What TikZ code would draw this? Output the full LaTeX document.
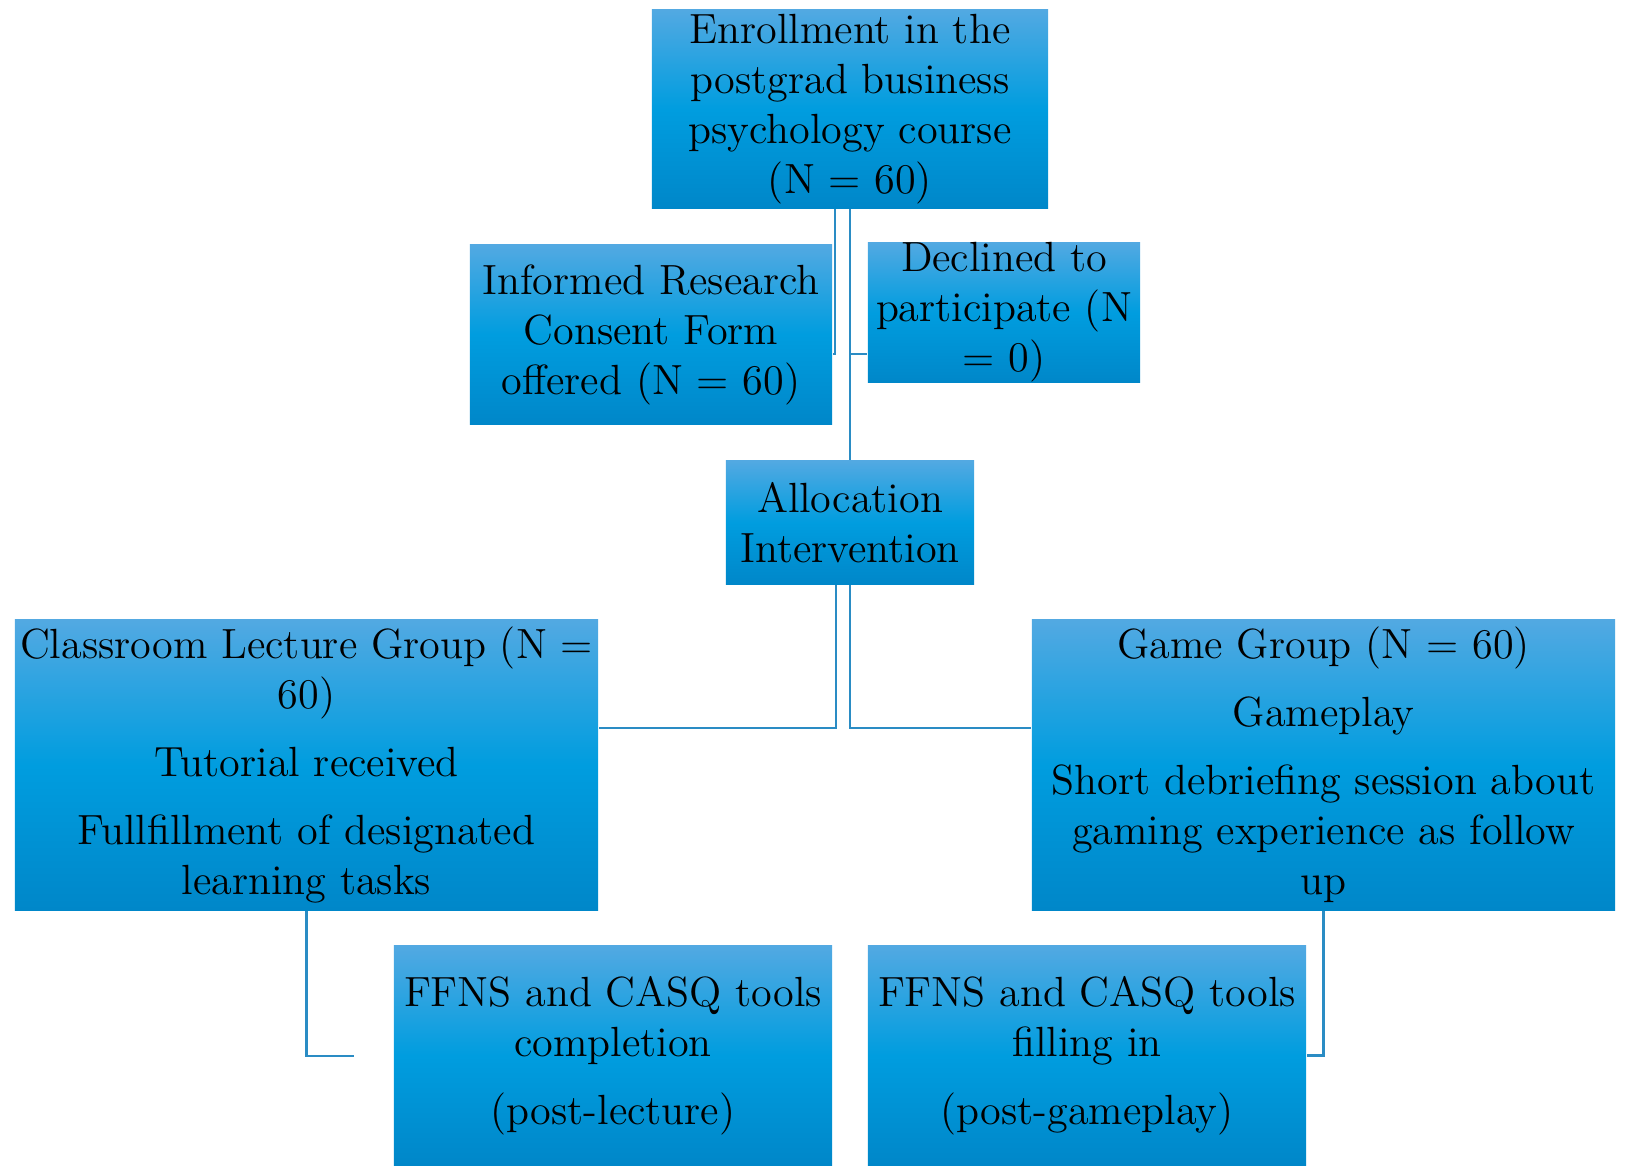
\documentclass[tikz,border=0pt]{standalone}
\usetikzlibrary{positioning}
\definecolor{boxtop}{HTML}{52A9E2}
\definecolor{boxmid}{HTML}{009DDF}
\definecolor{boxbot}{HTML}{0087C9}
\definecolor{linkblue}{HTML}{2A8CC4}
\tikzset{
  stage/.style={inner sep=0pt,align=center,font=\fontsize{12}{14.2}\selectfont,
    top color=boxtop,bottom color=boxbot,middle color=boxmid},
  link/.style={draw=linkblue,line width=0.6pt}
}
\begin{document}
\begin{tikzpicture}[x=0.01cm,y=-0.01cm]
\useasboundingbox (0,0) rectangle (1625,1175);
\node[stage,minimum width=3.96cm,minimum height=1.98cm] (enrol) at (850,109)
  {Enrollment in the\\postgrad business\\psychology course\\(N = 60)};
\node[stage,minimum width=3.62cm,minimum height=1.79cm] (consent) at (651,334.5)
  {Informed Research\\Consent Form\\offered (N = 60)};
\node[stage,minimum width=2.72cm,minimum height=1.35cm] (decline) at (1004,312.5)
  {Declined to\\participate (N\\= 0)};
\node[stage,minimum width=2.48cm,minimum height=1.23cm] (alloc) at (850,522.5)
  {Allocation\\Intervention};
\node[stage,minimum width=5.83cm,minimum height=2.9cm] (lecture) at (306.5,765)
  {Classroom Lecture Group (N =\\60)\\[0.18cm]Tutorial received\\[0.18cm]Fullfillment of designated\\learning tasks};
\node[stage,minimum width=5.83cm,minimum height=2.9cm] (game) at (1323.5,765)
  {Game Group (N = 60)\\[0.18cm]Gameplay\\[0.18cm]Short debriefing session about\\gaming experience as follow\\up};
\node[stage,minimum width=4.38cm,minimum height=2.19cm] (postlec) at (613,1055.5)
  {FFNS and CASQ tools\\completion\\[0.18cm](post-lecture)};
\node[stage,minimum width=4.38cm,minimum height=2.19cm] (postgame) at (1087,1055.5)
  {FFNS and CASQ tools\\filling in\\[0.18cm](post-gameplay)};
\coordinate (lecend) at (354,1056);
% connectors
\draw[link] (enrol.south -| 835,0) |- (consent.east |- 0,354);
\draw[link] (enrol.south) |- (decline.west |- 0,354);
\draw[link] (enrol.south) -- (alloc.north);
\draw[link] (alloc.south -| 836,0) |- (lecture.east |- 0,728);
\draw[link] (alloc.south) |- (game.west |- 0,728);
\draw[link] (lecture.south) |- (lecend);
\draw[link] (game.south) |- (postgame.east);
\end{tikzpicture}
\end{document}
